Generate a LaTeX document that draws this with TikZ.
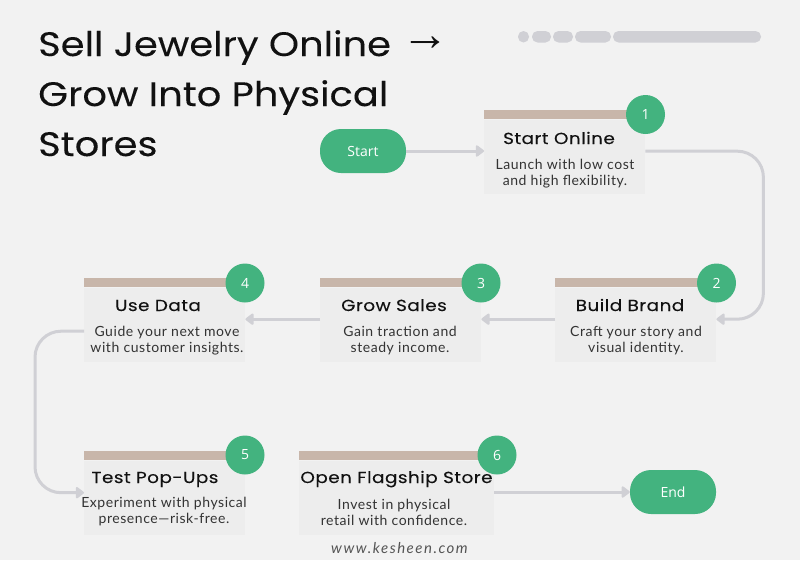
\documentclass[tikz,border=0pt]{standalone}
\usepackage{fontspec}
\setmainfont[LetterSpace=4]{Lato}
\newfontfamily\titlefont[FakeStretch=1.13,FakeBold=0.1]{Poppins}
\newfontfamily\headfont[FakeStretch=1.15,LetterSpace=3,FakeBold=0.1]{Poppins}
\newfontfamily\arrowfont{Liberation Sans}
\newfontfamily\labelfont{Open Sans}
\newfontfamily\footfont[LetterSpace=10]{Lato}
\definecolor{pagebg}{HTML}{F2F2F2}
\definecolor{cardbg}{HTML}{EDEDED}
\definecolor{barcol}{HTML}{C8B6AA}
\definecolor{greencol}{HTML}{43B37F}
\definecolor{linecol}{HTML}{D0D0D5}
\definecolor{inkcol}{HTML}{111111}
\definecolor{bodycol}{HTML}{333333}
\definecolor{footcol}{HTML}{555555}
\usetikzlibrary{arrows.meta}
\tikzset{
  card/.style={fill=cardbg,anchor=north west,minimum height=74pt,inner sep=0pt},
  bar/.style={fill=barcol,anchor=south west,minimum height=9.5pt,inner sep=0pt},
  badge/.style={circle,fill=greencol,text=white,minimum size=39pt,inner sep=0pt,font=\labelfont\fontsize{14}{14}\selectfont},
  pill/.style={rounded corners=21pt,fill=greencol,text=white,minimum width=86pt,minimum height=44pt,inner sep=0pt,font=\labelfont\fontsize{14}{14}\selectfont},
  heading/.style={text=inkcol,inner sep=0pt,anchor=base,font=\headfont\fontsize{16}{16}\selectfont},
  body/.style={text=bodycol,inner sep=0pt,align=center,font=\fontsize{14}{16}\selectfont},
  titleline/.style={text=inkcol,inner sep=0pt,anchor=base west,font=\titlefont\fontsize{34}{34}\selectfont},
  link/.style={draw=linecol,line width=3pt,rounded corners=26pt,-{Triangle[length=9pt,width=13pt,round]}},
  dot/.style={fill=linecol,rounded corners=5.5pt}
}
\begin{document}
\begin{tikzpicture}[x=1pt,y=-1pt]
  \useasboundingbox (0,0) rectangle (800,560);
  \fill[pagebg] (0,0) rectangle (800,560);

  \node[titleline] (title1) at (38,56) {Sell Jewelry Online \raisebox{6pt}{\arrowfont\fontsize{48}{48}\selectfont→}};
  \node[titleline] (title2) at (38,106) {Grow Into Physical};
  \node[titleline] (title3) at (38,156) {Stores};

  \fill[dot] (518,31) rectangle (529,42.5);
  \fill[dot] (532,31) rectangle (551,42.5);
  \fill[dot] (553,31) rectangle (573,42.5);
  \fill[dot] (575,31) rectangle (611,42.5);
  \fill[dot] (613,31) rectangle (761,42.5);

  \node[pill] (start) at (363,151) {Start};
  \node[pill] (end) at (673,492) {End};

  \node[card,minimum width=161pt] (card1) at (484,119.5) {};
  \node[bar,minimum width=161pt] (bar1) at (card1.north west) {};
  \node[badge] (badge1) at (645.5,114.5) {1};
  \node[heading] (head1) at (559,144) {Start Online};
  \node[body] (text1) at (565,174) {Launch with low cost\\and high flexibility.};

  \node[card,minimum width=161pt] (card2) at (555,287.5) {};
  \node[bar,minimum width=161pt] (bar2) at (card2.north west) {};
  \node[badge] (badge2) at (716.5,283) {2};
  \node[heading] (head2) at (630,311) {Build Brand};
  \node[body] (text2) at (636,340.5) {Craft your story and\\visual identity.};

  \node[card,minimum width=161pt] (card3) at (320,287.5) {};
  \node[bar,minimum width=161pt] (bar3) at (card3.north west) {};
  \node[badge] (badge3) at (481,283) {3};
  \node[heading] (head3) at (394,311) {Grow Sales};
  \node[body] (text3) at (400,340.5) {Gain traction and\\steady income.};

  \node[card,minimum width=161pt] (card4) at (84,287.5) {};
  \node[bar,minimum width=161pt] (bar4) at (card4.north west) {};
  \node[badge] (badge4) at (245,283) {4};
  \node[heading] (head4) at (158,311) {Use Data};
  \node[body] (text4) at (167,340.5) {Guide your next move\\with customer insights.};

  \node[card,minimum width=161pt] (card5) at (84,460.5) {};
  \node[bar,minimum width=161pt] (bar5) at (card5.north west) {};
  \node[badge] (badge5) at (245,455) {5};
  \node[heading] (head5) at (155,483) {Test Pop-Ups};
  \node[body] (text5) at (164,512) {Experiment with physical\\presence—risk-free.};

  \node[card,minimum width=195pt] (card6) at (299,460.5) {};
  \node[bar,minimum width=195pt] (bar6) at (card6.north west) {};
  \node[badge] (badge6) at (497,455) {6};
  \node[heading] (head6) at (396.5,483) {Open Flagship Store};
  \node[body] (text6) at (394,512) {Invest in physical\\retail with confidence.};

  \node[text=footcol,inner sep=0pt,font=\footfont\itshape\fontsize{15}{15}\selectfont] (site) at (399.5,548) {www.kesheen.com};

  \begin{scope}[link]
    \draw[rounded corners=0pt] (start.east) to (card1.west |- start.east);
    \draw ([yshift=5.5pt]card1.east) -- ++(118,0) |- ([yshift=5.5pt]card2.east);
    \draw[rounded corners=0pt] ([yshift=5.5pt]card2.west) to ([yshift=5.5pt]card3.east);
    \draw[rounded corners=0pt] ([yshift=5.5pt]card3.west) to ([yshift=5.5pt]card4.east);
    \draw ([yshift=-6.5pt]card4.west) -- ++(-49,0) |- ([yshift=5pt]card5.west);
    \draw[rounded corners=0pt] (card6.east |- end.west) to (end.west);
  \end{scope}
\end{tikzpicture}
\end{document}
